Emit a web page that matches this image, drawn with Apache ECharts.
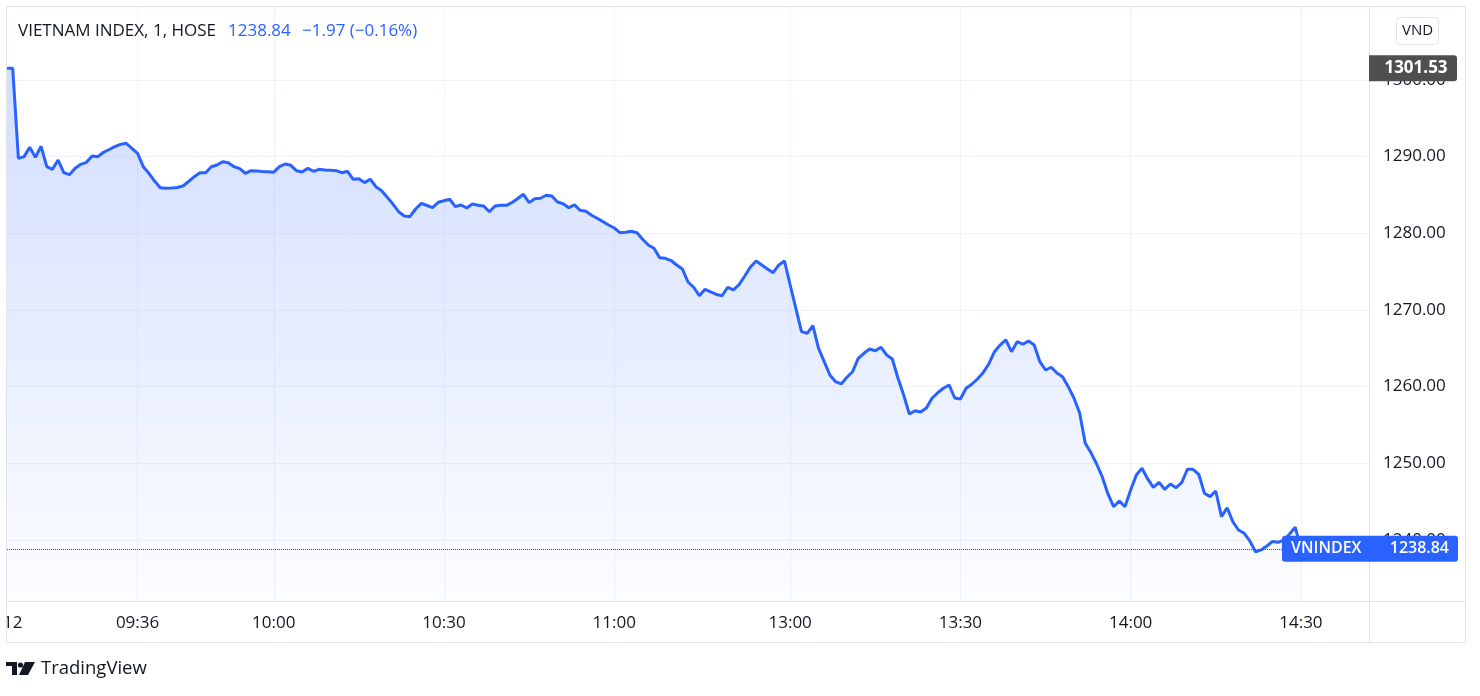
<!DOCTYPE html>
<html>
<head>
<meta charset="utf-8">
<script src="https://cdn.jsdelivr.net/npm/echarts@6/dist/echarts.min.js"></script>
<style>
  html, body { margin: 0; padding: 0; background: #ffffff; }
  #chart { width: 1480px; height: 696px; }
</style>
</head>
<body>
<div id="chart"></div>
<script>
// ---- Data ----
// trading sessions (1-minute bars); categories built from these
const sessions = [["09:13", "11:30"], ["13:00", "14:42"]];
// VN-Index 1-minute closes starting at 09:13
const values = [
  1301.53, 1301.53,
  1289.78, 1290.00, 1291.22, 1289.92, 1291.35, 1288.69, 1288.35, 1289.56, 1287.91, 1287.65,
  1288.48, 1289.00, 1289.26, 1290.09, 1290.00, 1290.57, 1290.93, 1291.30, 1291.60, 1291.74,
  1291.09, 1290.44, 1288.69, 1287.83, 1286.82, 1285.95, 1285.87, 1285.90, 1285.98, 1286.17,
  1286.76, 1287.39, 1287.91, 1287.91, 1288.69, 1288.91, 1289.34, 1289.21, 1288.69, 1288.43,
  1287.83, 1288.17, 1288.13, 1288.06, 1288.03, 1287.98, 1288.69, 1289.04, 1288.87, 1288.17,
  1288.00, 1288.48, 1288.09, 1288.35, 1288.26, 1288.22, 1288.17, 1287.91, 1288.09, 1287.05,
  1287.13, 1286.61, 1287.05, 1286.08, 1285.56, 1284.70, 1283.82, 1282.82, 1282.26, 1282.17,
  1283.17, 1283.91, 1283.63, 1283.34, 1284.05, 1284.25, 1284.44, 1283.48, 1283.70, 1283.30,
  1283.82, 1283.65, 1283.57, 1282.82, 1283.57, 1283.65, 1283.65, 1284.02, 1284.54, 1285.09,
  1284.00, 1284.52, 1284.57, 1284.96, 1284.87, 1284.09, 1283.86, 1283.34, 1283.70, 1283.00,
  1282.87, 1282.35, 1281.96, 1281.52, 1281.09, 1280.69, 1280.08, 1280.13, 1280.26, 1280.08,
  1279.22, 1278.48, 1278.05, 1276.82, 1276.74, 1276.45, 1275.87, 1275.35, 1273.65, 1272.96,
  1271.86, 1272.70, 1272.35, 1272.02, 1271.86, 1272.96, 1272.61, 1273.30, 1274.43, 1275.60,
  1276.39, 1275.87, 1275.35, 1274.87, 1275.87, 1276.39,
  1273.26, 1270.22, 1267.17, 1266.96, 1267.95, 1265.00, 1263.26, 1261.52, 1260.65, 1260.35,
  1261.22, 1261.95, 1263.70, 1264.35, 1264.91, 1264.69, 1265.13, 1264.13, 1263.61, 1261.09,
  1258.91, 1256.43, 1256.86, 1256.70, 1257.22, 1258.48, 1259.21, 1259.79, 1260.22, 1258.52,
  1258.39, 1259.79, 1260.31, 1261.00, 1261.82, 1262.96, 1264.56, 1265.43, 1266.09, 1264.56,
  1265.87, 1265.53, 1265.96, 1265.43, 1263.26, 1262.17, 1262.53, 1261.78, 1261.30, 1260.00,
  1258.52, 1256.60, 1252.61, 1251.39, 1249.91, 1248.22, 1246.00, 1244.34, 1245.09, 1244.34,
  1246.52, 1248.48, 1249.35, 1247.96, 1246.87, 1247.52, 1246.61, 1247.30, 1246.82, 1247.47,
  1249.22, 1249.22, 1248.57, 1246.09, 1245.65, 1246.39, 1243.04, 1244.21, 1242.39, 1241.30,
  1240.87, 1239.87, 1238.47, 1238.70, 1239.22, 1239.80, 1239.70, 1240.00, 1240.78, 1241.66,
  1238.84
];
// time-axis tick labels
const tickTimes = ["09:14", "09:36", "10:00", "10:30", "11:00", "13:00", "13:30", "14:00", "14:30"];
const tickTexts = ["12", "09:36", "10:00", "10:30", "11:00", "13:00", "13:30", "14:00", "14:30"];
const gridTimes = ["09:36", "10:00", "10:30", "11:00", "13:00", "13:30", "14:00", "14:30"];
// header texts
const headerName = "VIETNAM INDEX, 1, HOSE";
const headerPrice = "1238.84";
const headerChange = "\u22121.97 (\u22120.16%)";
const seriesTag = "VNINDEX";
const currency = "VND";
const prevClose = 1301.53;
// price scale range
const yMin = 1232.04, yMax = 1309.65;

// ---- Build categories ----
function toMin(s) { const p = s.split(":"); return (+p[0]) * 60 + (+p[1]); }
function fmt(m) { const h = Math.floor(m / 60), mm = m % 60; return (h < 10 ? "0" : "") + h + ":" + (mm < 10 ? "0" : "") + mm; }
const categories = [];
sessions.forEach(([a, b]) => { for (let m = toMin(a); m <= toMin(b); m++) categories.push(fmt(m)); });
const tickMap = new Map(tickTimes.map((t, i) => [t, tickTexts[i]]));
const lastValue = values[values.length - 1];

const FONT = "'Open Sans', 'Noto Sans', sans-serif";
const TEXT = "#131722";
const BLUE = "#2962ff";
const GRID = "#f0f3fa";
const BORDER = "#e0e3eb";

const chart = echarts.init(document.getElementById("chart"), null, { renderer: "canvas" });
chart.setOption({
  animation: false,
  backgroundColor: "#ffffff",
  textStyle: { fontFamily: FONT },
  grid: { left: 6, right: 111, top: 6, bottom: 95, containLabel: false },
  xAxis: {
    type: "category",
    data: categories,
    boundaryGap: false,
    axisLine: { show: false },
    axisTick: { show: false },
    axisLabel: {
      interval: (i, v) => tickMap.has(v),
      formatter: v => tickMap.get(v) || "",
      color: TEXT, fontSize: 17, fontFamily: FONT, margin: 14
    },
    splitLine: {
      show: true,
      interval: (i, v) => gridTimes.includes(v),
      lineStyle: { color: GRID, width: 1 }
    }
  },
  yAxis: {
    type: "value",
    position: "right",
    min: yMin, max: yMax,
    splitNumber: 8,
    axisLine: { show: false },
    axisTick: { show: false },
    axisLabel: {
      showMinLabel: false, showMaxLabel: false,
      formatter: v => v.toFixed(2),
      color: TEXT, fontSize: 17, fontFamily: FONT, margin: 14
    },
    splitLine: { show: true, lineStyle: { color: GRID, width: 1 } }
  },
  series: [{
    type: "line",
    data: values,
    symbol: "none",
    showSymbol: false,
    lineStyle: { color: BLUE, width: 3 },
    itemStyle: { color: BLUE },
    areaStyle: {
      color: new echarts.graphic.LinearGradient(0, 0, 0, 1, [
        { offset: 0, color: "rgba(41,98,255,0.30)" },
        { offset: 1, color: "rgba(41,98,255,0.02)" }
      ])
    },
    markLine: {
      silent: true,
      symbol: "none",
      label: { show: false },
      lineStyle: { type: "dotted", color: "#3a4a6e", width: 1 },
      data: [{ yAxis: lastValue }]
    }
  }]
});

// ---- Overlays (labels placed via the chart's own scale) ----
const yPrev = chart.convertToPixel({ yAxisIndex: 0 }, prevClose);
const yLast = chart.convertToPixel({ yAxisIndex: 0 }, lastValue);
const axisX = 1369.5;

chart.setOption({
  graphic: [
    // clip left of frame (day label)
    { type: "rect", z: 100, shape: { x: 0, y: 602, width: 6, height: 40 }, style: { fill: "#ffffff" } },
    // frame
    { type: "rect", z: 101, shape: { x: 6.5, y: 6.5, width: 1459, height: 636 }, style: { fill: null, stroke: BORDER, lineWidth: 1 } },
    { type: "line", z: 101, shape: { x1: axisX, y1: 6, x2: axisX, y2: 642 }, style: { stroke: BORDER, lineWidth: 1 } },
    { type: "line", z: 101, shape: { x1: 6, y1: 601.5, x2: 1465, y2: 601.5 }, style: { stroke: BORDER, lineWidth: 1 } },
    // header
    { type: "text", z: 110, x: 18, y: 31, style: { text: headerName, fill: TEXT, font: "17px " + FONT, textVerticalAlign: "middle" } },
    { type: "text", z: 110, x: 228, y: 31, style: { text: headerPrice, fill: BLUE, font: "17px " + FONT, textVerticalAlign: "middle" } },
    { type: "text", z: 110, x: 302, y: 31, style: { text: headerChange, fill: BLUE, font: "17px " + FONT, textVerticalAlign: "middle" } },
    // currency box
    { type: "rect", z: 110, shape: { x: 1396.5, y: 17.5, width: 42, height: 27, r: 4 }, style: { fill: "#ffffff", stroke: BORDER, lineWidth: 1 } },
    { type: "text", z: 111, x: 1417.5, y: 31, style: { text: currency, fill: TEXT, font: "15px " + FONT, textAlign: "center", textVerticalAlign: "middle" } },
    // previous close tag
    { type: "rect", z: 110, shape: { x: 1369, y: yPrev - 13, width: 88, height: 26, r: [0, 3, 3, 0] }, style: { fill: "#4f4f4f" } },
    { type: "text", z: 111, x: 1416, y: yPrev, style: { text: prevClose.toFixed(2), fill: "#ffffff", font: "bold 17px " + FONT, textAlign: "center", textVerticalAlign: "middle" } },
    // last value tag
    { type: "rect", z: 110, shape: { x: 1282, y: yLast - 13, width: 176, height: 26, r: 3 }, style: { fill: BLUE } },
    { type: "text", z: 111, x: 1291, y: yLast, style: { text: seriesTag, fill: "#ffffff", font: "600 16px " + FONT, textVerticalAlign: "middle" } },
    { type: "text", z: 111, x: 1449, y: yLast, style: { text: lastValue.toFixed(2), fill: "#ffffff", font: "600 16px " + FONT, textAlign: "right", textVerticalAlign: "middle" } },
    // TradingView logo
    { type: "polygon", z: 110, shape: { points: [[6, 662], [17, 662], [17, 675], [12, 675], [12, 666], [6, 666]] }, style: { fill: TEXT } },
    { type: "circle", z: 110, shape: { cx: 20.5, cy: 665, r: 2.6 }, style: { fill: TEXT } },
    { type: "polygon", z: 110, shape: { points: [[25, 662], [35, 662], [28, 675], [19, 675]] }, style: { fill: TEXT } },
    { type: "text", z: 110, x: 41, y: 669, style: { text: "TradingView", fill: TEXT, font: "18.5px " + FONT, textVerticalAlign: "middle" } }
  ]
});
</script>
</body>
</html>
